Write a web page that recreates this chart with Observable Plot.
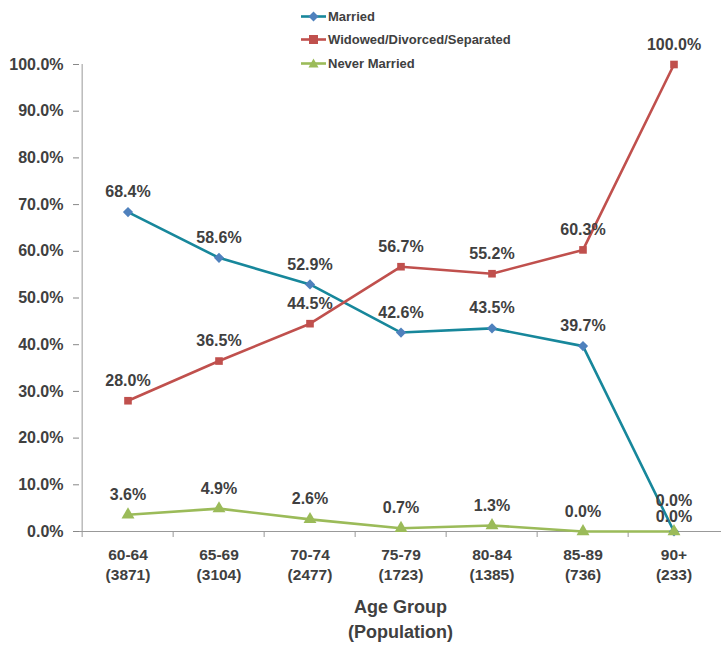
<!DOCTYPE html>
<html>
<head>
<meta charset="utf-8">
<script src="https://cdn.jsdelivr.net/npm/d3@7"></script>
<script src="https://cdn.jsdelivr.net/npm/@observablehq/plot@0.6"></script>
<style>
  html, body { margin: 0; padding: 0; background: #fff; }
  #wrap { position: relative; width: 726px; height: 648px; font-family: "Liberation Sans Narrow", "Arial Narrow", "Liberation Sans", Arial, sans-serif; font-weight: bold; color: #404040; }
  #legend { position: absolute; left: 300px; top: 5px; font-size: 13px; }
  .item { display: flex; align-items: center; height: 23.3px; }
  .item svg { margin-right: 1px; }
</style>
</head>
<body>
<div id="wrap"><div id="chart"></div><div id="legend"></div></div>
<script>
const ageGroups = ["60-64", "65-69", "70-74", "75-79", "80-84", "85-89", "90+"];
const populations = [3871, 3104, 2477, 1723, 1385, 736, 233];
const married = [68.4, 58.6, 52.9, 42.6, 43.5, 39.7, 0.0];
const widowed = [28.0, 36.5, 44.5, 56.7, 55.2, 60.3, 100.0];
const neverMarried = [3.6, 4.9, 2.6, 0.7, 1.3, 0.0, 0.0];
const seriesNames = ["Married", "Widowed/Divorced/Separated", "Never Married"];
const yTicks = [0, 10, 20, 30, 40, 50, 60, 70, 80, 90, 100];

const colors = {
  "Married": {line: "#17879B", marker: "#4F81BD", symbol: "diamond2"},
  "Widowed/Divorced/Separated": {line: "#C0504D", marker: "#C0504D", symbol: "square"},
  "Never Married": {line: "#9BBB59", marker: "#9BBB59", symbol: "triangle"}
};

const seriesValues = [married, widowed, neverMarried];
const rows = [];
seriesNames.forEach((s, si) => {
  ageGroups.forEach((g, i) => rows.push({series: s, group: g, value: seriesValues[si][i], idx: i}));
});

const W = 726, H = 648;
const mL = 79, mR = 5, mT = 64, mB = 117;
const bw = (W - mL - mR) / ageGroups.length;
const popLabel = Object.fromEntries(ageGroups.map((g, i) => [g, `${g}\n(${populations[i]})`]));
const fontFam = '"Liberation Sans Narrow", "Arial Narrow", "Liberation Sans", Arial, sans-serif';

const marks = [];
marks.push(Plot.axisY({ticks: yTicks, tickFormat: d => d.toFixed(1) + "%", tickSize: 6, tickPadding: 10, stroke: "#888", fill: "#404040", fontSize: 16, fontWeight: "bold", label: null}));
marks.push(Plot.axisX({tickSize: 6, text: null, dx: -bw / 2, stroke: "#999", label: null}));
marks.push(Plot.axisX({tickSize: 0, tickPadding: 15, tickFormat: d => popLabel[d], fill: "#404040", fontSize: 15.5, fontWeight: "bold", lineHeight: 1.25, label: null}));
marks.push(Plot.ruleY([0], {stroke: "#999", strokeWidth: 1}));
marks.push(Plot.ruleX([ageGroups[0]], {dx: -bw / 2, stroke: "#999", strokeWidth: 1}));

seriesNames.forEach(s => {
  const d = rows.filter(r => r.series === s);
  const c = colors[s];
  marks.push(Plot.line(d, {x: "group", y: "value", stroke: c.line, strokeWidth: 2.6}));
});
seriesNames.forEach(s => {
  const d = rows.filter(r => r.series === s);
  const c = colors[s];
  const r = c.symbol === "square" ? 4.3 : c.symbol === "triangle" ? 4.8 : 4.6;
  marks.push(Plot.dot(d, {x: "group", y: "value", symbol: c.symbol, fill: c.marker, r}));
});
// Data labels
const labelStyle = {fill: "#404040", fontSize: 16, fontWeight: "bold", fontFamily: fontFam, text: d => d.value.toFixed(1) + "%"};
const last = ageGroups.length - 1;
marks.push(Plot.text(rows.filter(r => !(r.idx === last && r.series !== "Widowed/Divorced/Separated")), {x: "group", y: "value", dy: -20, ...labelStyle}));
marks.push(Plot.text(rows.filter(r => r.idx === last && r.series === "Married"), {x: "group", y: "value", dy: -31, ...labelStyle}));
marks.push(Plot.text(rows.filter(r => r.idx === last && r.series === "Never Married"), {x: "group", y: "value", dy: -15, ...labelStyle}));
// Axis title
marks.push(Plot.text(["Age Group\n(Population)"], {frameAnchor: "bottom", dy: 106, fill: "#404040", fontSize: 18, fontWeight: "bold", fontFamily: fontFam, lineHeight: 1.35}));

const chart = Plot.plot({
  width: W, height: H,
  marginLeft: mL, marginRight: mR, marginTop: mT, marginBottom: mB,
  style: {fontFamily: fontFam, fontWeight: "bold", background: "#fff", color: "#404040", overflow: "visible"},
  x: {type: "band", domain: ageGroups, padding: 0, axis: null},
  y: {domain: [0, 100], axis: null},
  marks
});
document.getElementById("chart").appendChild(chart);

// Legend
const legend = document.getElementById("legend");
seriesNames.forEach(s => {
  const c = colors[s];
  const item = document.createElement("div");
  item.className = "item";
  const sym = c.symbol === "square"
    ? `<rect x="9" y="4" width="9" height="9" fill="${c.marker}"/>`
    : c.symbol === "triangle"
      ? `<path d="M13.5 3.5 L18.5 12.5 L8.5 12.5 Z" fill="${c.marker}"/>`
      : `<path d="M13.5 3.5 L18.5 8.5 L13.5 13.5 L8.5 8.5 Z" fill="${c.marker}"/>`;
  item.innerHTML = `<svg width="27" height="17"><line x1="1" x2="26" y1="8.5" y2="8.5" stroke="${c.line}" stroke-width="2.6"/>${sym}</svg><span>${s}</span>`;
  legend.appendChild(item);
});
</script>
</body>
</html>
